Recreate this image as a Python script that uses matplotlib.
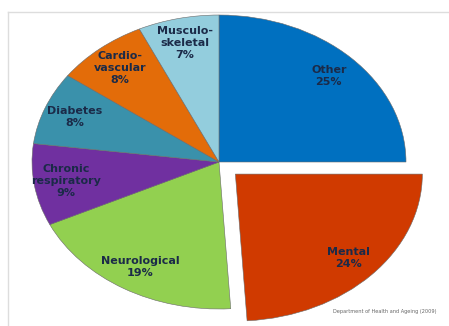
import matplotlib.pyplot as plt
from matplotlib.lines import Line2D

# ---- data
categories = ["Other", "Mental", "Neurological", "Chronic\nrespiratory",
              "Diabetes", "Cardio-\nvascular", "Musculo-\nskeletal"]
shares = [25, 24, 19, 9, 8, 8, 7]
colors = ["#0070C0", "#D03A00", "#92D050", "#7030A0",
          "#3A91AB", "#E36C09", "#93CDDD"]
explode = [0, 0.12, 0, 0, 0, 0, 0]
source = "Department of Health and Ageing (2009)"

W, H = 449, 326
fig = plt.figure(figsize=(W / 100, H / 100), dpi=100)
ax = fig.add_axes([0, 0, 1, 1])

wedges, texts = ax.pie(shares, colors=colors, explode=explode,
                       startangle=90, counterclock=False,
                       labels=[f"{c}\n{s}%" for c, s in zip(categories, shares)],
                       labeldistance=0.83,
                       wedgeprops=dict(edgecolor="#6a6a6a", linewidth=0.4))
for t in texts:
    t.set_ha("center")
    t.set_va("center")
    t.set_fontsize(8)
    t.set_fontweight("bold")
    t.set_color("#1b2a48")
    t.set_linespacing(1.25)

# stretch the pie into an ellipse like the original slide picture
cx, cy = 219, 162   # centre in pixels (from top)
rx, ry = 187, 147
ax.set_aspect("auto")
ax.set_xlim(-cx / rx, (W - cx) / rx)
ax.set_ylim(-(H - cy) / ry, cy / ry)
ax.axis("off")

ax.text((385 - cx) / rx, (cy - 311) / ry, source, fontsize=3.6, color="#666666",
        ha="center", va="center")

# faint slide border
fig.add_artist(Line2D([8 / W, 1], [1 - 12 / H, 1 - 12 / H], color="#dddddd", lw=1))
fig.add_artist(Line2D([8 / W, 8 / W], [0, 1 - 12 / H], color="#dddddd", lw=1))

fig.savefig("out.png", dpi=100)
